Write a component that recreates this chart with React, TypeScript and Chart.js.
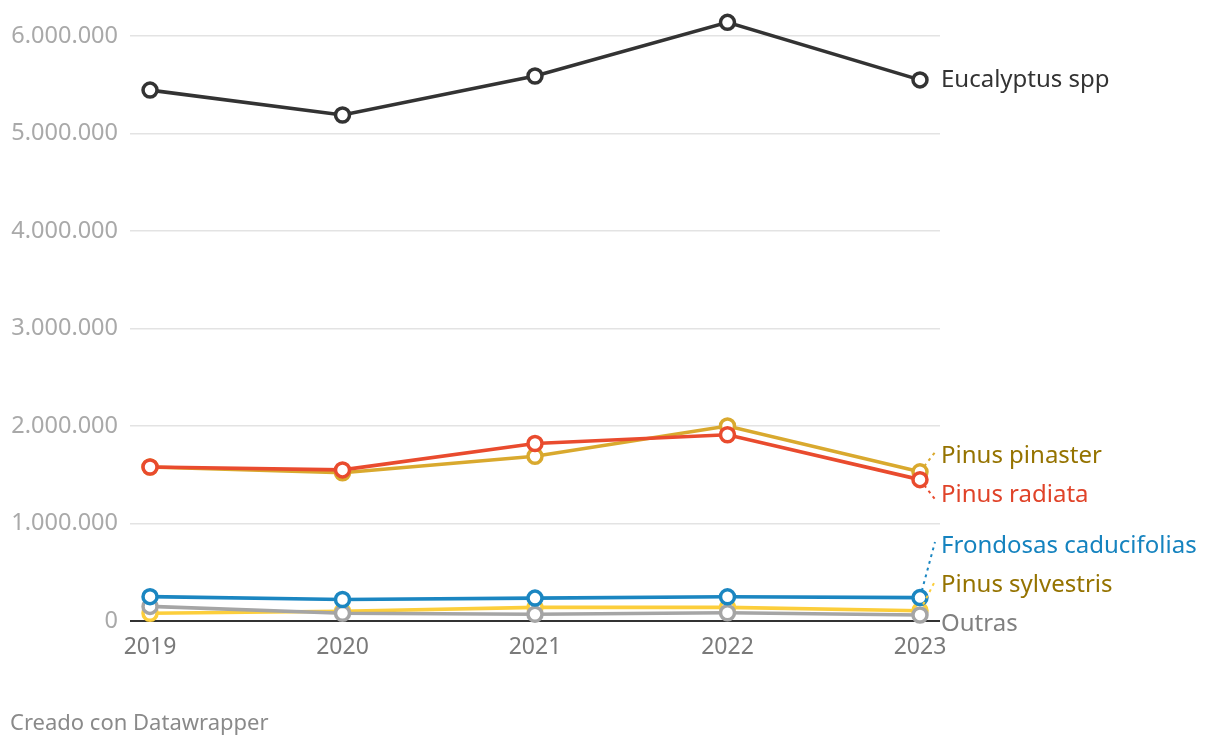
import React, { useEffect, useRef } from "react";
import { Chart, registerables } from "chart.js";

Chart.register(...registerables);

const years = [2019, 2020, 2021, 2022, 2023];
const eucalyptus = [5445000, 5190000, 5590000, 6140000, 5550000];
const pinaster = [1580000, 1520000, 1690000, 2000000, 1530000];
const radiata = [1580000, 1550000, 1820000, 1910000, 1450000];
const frondosas = [250000, 220000, 235000, 248000, 240000];
const sylvestris = [80000, 100000, 140000, 140000, 105000];
const outras = [150000, 80000, 70000, 85000, 62000];

const seriesNames = [
  "Eucalyptus spp",
  "Pinus pinaster",
  "Pinus radiata",
  "Frondosas caducifolias",
  "Pinus sylvestris",
  "Outras",
];
const lineColors = ["#333333", "#d9a92e", "#e94b2e", "#1b86c1", "#fcce3b", "#a5a5a5"];
const labelColors = ["#333333", "#957300", "#e04329", "#1583bf", "#957300", "#808080"];
const drawOrder = [0, 2, 1, 3, 5, 4];
const yTicks = [0, 1000000, 2000000, 3000000, 4000000, 5000000, 6000000];

const FONT = "'Noto Sans', 'Open Sans', sans-serif";

const fmt = (v: number) => v.toLocaleString("de-DE");

const yLabelPlugin = {
  id: "yLabels",
  afterDraw(chart: any) {
    const ctx = chart.ctx;
    const ys = chart.scales.y;
    ctx.save();
    ctx.font = `23.5px ${FONT}`;
    ctx.fillStyle = "#a9a9a9";
    ctx.textAlign = "right";
    ctx.textBaseline = "middle";
    for (const v of yTicks) {
      ctx.fillText(fmt(v), chart.chartArea.left - 12, ys.getPixelForValue(v));
    }
    ctx.restore();
  },
};

const labelPlugin = {
  id: "endLabels",
  afterDatasetsDraw(chart: any) {
    const ctx = chart.ctx;
    const area = chart.chartArea;
    const items: any[] = [];
    chart.data.datasets.forEach((ds: any, i: number) => {
      const meta = chart.getDatasetMeta(i);
      const last = meta.data[meta.data.length - 1];
      items.push({ i, px: last.x, py: last.y, y: last.y });
    });
    const gap = 39;
    const bottomLimit = area.bottom + 3;
    items.sort((a, b) => a.py - b.py);
    for (let iter = 0; iter < 300; iter++) {
      let moved = false;
      for (let k = 0; k < items.length - 1; k++) {
        const a = items[k];
        const b = items[k + 1];
        const d = b.y - a.y;
        if (d < gap - 0.01) {
          const push = (gap - d) / 2;
          a.y -= push;
          b.y += push;
          moved = true;
        }
      }
      for (const it of items) {
        if (it.y > bottomLimit) {
          it.y = bottomLimit;
          moved = true;
        }
      }
      if (!moved) break;
    }
    ctx.save();
    ctx.font = `24px ${FONT}`;
    ctx.textBaseline = "middle";
    ctx.textAlign = "left";
    const tx = area.right + 1;
    for (const it of items) {
      if (Math.abs(it.y - it.py) > 10) {
        const dir = it.y < it.py ? -1 : 1;
        const ex = tx - 6;
        const ey = it.y + dir * 4;
        const dx = ex - it.px;
        const dy = ey - it.py;
        const len = Math.hypot(dx, dy);
        ctx.beginPath();
        ctx.setLineDash([3, 4]);
        ctx.strokeStyle = lineColors[it.i];
        ctx.lineWidth = 2;
        ctx.moveTo(it.px + (dx / len) * 7, it.py + (dy / len) * 7);
        ctx.lineTo(ex, ey);
        ctx.stroke();
        ctx.setLineDash([]);
      }
      ctx.fillStyle = labelColors[it.i];
      ctx.fillText(seriesNames[it.i], tx, it.y);
    }
    ctx.restore();
  },
};

const footerPlugin = {
  id: "footer",
  afterDraw(chart: any) {
    const ctx = chart.ctx;
    ctx.save();
    ctx.font = `22px ${FONT}`;
    ctx.fillStyle = "#8a8a8a";
    ctx.textAlign = "left";
    ctx.textBaseline = "middle";
    ctx.fillText("Creado con Datawrapper", 10, 724);
    ctx.restore();
  },
};

export default function App() {
  const ref = useRef<HTMLCanvasElement>(null);
  useEffect(() => {
    const series = [eucalyptus, pinaster, radiata, frondosas, sylvestris, outras];
    const chart = new Chart(ref.current!, {
      type: "line",
      data: {
        datasets: series.map((vals, i) => ({
          label: seriesNames[i],
          data: vals.map((v, k) => ({ x: years[k], y: v })),
          borderColor: lineColors[i],
          backgroundColor: "#ffffff",
          pointBackgroundColor: "#ffffff",
          pointBorderColor: lineColors[i],
          pointBorderWidth: 3.5,
          pointRadius: 7,
          borderWidth: 3.6,
          tension: 0,
          clip: false,
          order: drawOrder[i],
        })),
      },
      options: {
        responsive: false,
        animation: false,
        layout: { autoPadding: false, padding: { left: 0, right: 280, top: 6.75, bottom: 0 } },
        plugins: { legend: { display: false }, tooltip: { enabled: false } },
        scales: {
          x: {
            type: "linear",
            min: 2018.896,
            max: 2023.104,
            grid: { display: false, drawTicks: false },
            border: { display: false },
            afterBuildTicks: (s: any) => {
              s.ticks = years.map((y) => ({ value: y }));
            },
            afterFit: (s: any) => {
              s.height = 127;
            },
            ticks: {
              padding: 13,
              color: "#7a7a7a",
              font: { family: FONT, size: 23 },
              callback: (v: any) => String(v),
            },
          },
          y: {
            min: 0,
            max: 6300000,
            afterBuildTicks: (s: any) => {
              s.ticks = yTicks.map((v) => ({ value: v }));
            },
            afterFit: (s: any) => {
              s.width = 130;
            },
            border: { display: false },
            grid: {
              drawTicks: false,
              color: (c: any) => (c.tick && c.tick.value === 0 ? "#333333" : "#e3e3e3"),
              lineWidth: (c: any) => (c.tick && c.tick.value === 0 ? 2 : 1.5),
            },
            ticks: { display: false },
          },
        },
      } as any,
      plugins: [yLabelPlugin, labelPlugin, footerPlugin],
    });
    return () => chart.destroy();
  }, []);
  return (
    <div style={{ position: "fixed", left: 0, top: 0, width: 1220, height: 748, background: "#fff" }}>
      <canvas ref={ref} width={1220} height={748} style={{ width: 1220, height: 748 }} />
    </div>
  );
}
